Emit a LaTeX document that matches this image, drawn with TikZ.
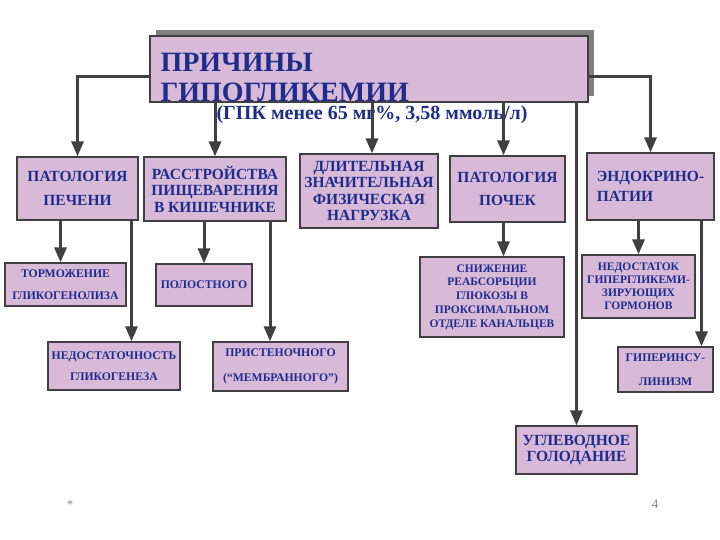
\documentclass[tikz,border=0pt]{standalone}
\usepackage{fontspec}
\setmainfont{Liberation Serif}
\usetikzlibrary{arrows.meta,positioning,shadows}
\definecolor{boxfill}{RGB}{216,186,216}
\definecolor{boxline}{RGB}{64,64,64}
\definecolor{linegray}{RGB}{64,64,64}
\definecolor{txtblue}{RGB}{30,45,140}
\definecolor{shadowgray}{RGB}{128,128,128}
\definecolor{pagegray}{RGB}{130,130,130}

\begin{document}
\begin{tikzpicture}[x=1pt, y=-1pt,
  box/.style={draw=boxline, fill=boxfill, line width=1.2pt, inner sep=1pt, align=center, text=txtblue},
  big/.style={font=\fontsize{15.5}{16.5}\selectfont\bfseries},
  small/.style={font=\fontsize{11.7}{13.5}\selectfont\bfseries},
  arr/.style={draw=linegray, line width=3pt, -{Triangle[length=15pt,width=12pt]}}]
\useasboundingbox[fill=white] (0,0) rectangle (720,540);
% title
\node[box, minimum width=438pt, minimum height=66pt,
  drop shadow={shadow xshift=6pt, shadow yshift=6pt, fill=shadowgray, opacity=1}] (cause) at (369,69) {};
\node[anchor=west, align=left, text=txtblue, font=\fontsize{28}{30}\selectfont\bfseries] (causetext) at (157,77) {ПРИЧИНЫ\\ГИПОГЛИКЕМИИ};
\node[anchor=base, text=txtblue, font=\fontsize{20}{22}\selectfont\bfseries] (limit) at (372,120) {(ГПК менее 65 мг\%, 3,58 ммоль/л)};
% first row
\node[box, big, minimum width=121pt, minimum height=63pt] (liver) at (77.5,188.5) {ПАТОЛОГИЯ\\[7pt]ПЕЧЕНИ};
\node[box, big, minimum width=142pt, minimum height=64pt] (gut) at (215,189) {РАССТРОЙСТВА\\ПИЩЕВАРЕНИЯ\\В КИШЕЧНИКЕ};
\node[box, big, minimum width=138pt, minimum height=74pt] (load) at (369,191) {ДЛИТЕЛЬНАЯ\\ЗНАЧИТЕЛЬНАЯ\\ФИЗИЧЕСКАЯ\\НАГРУЗКА};
\node[box, big, minimum width=115pt, minimum height=66pt] (kidney) at (507.5,189) {ПАТОЛОГИЯ\\[7pt]ПОЧЕК};
\node[box, big, align=left, minimum width=127pt, minimum height=67pt] (endo) at (650.5,186.5) {ЭНДОКРИНО-\\[3pt]ПАТИИ};
% second row
\node[box, small, minimum width=121pt, minimum height=43pt] (braking) at (65.5,284.5) {ТОРМОЖЕНИЕ\\[9pt]ГЛИКОГЕНОЛИЗА};
\node[box, small, minimum width=96pt, minimum height=42pt] (cavity) at (204,285) {ПОЛОСТНОГО};
\node[box, small, minimum width=132pt, minimum height=48pt] (synth) at (114,366) {НЕДОСТАТОЧНОСТЬ\\[7pt]ГЛИКОГЕНЕЗА};
\node[box, small, minimum width=135pt, minimum height=49pt] (wall) at (280.5,366.5) {ПРИСТЕНОЧНОГО\\[11pt](“МЕМБРАННОГО”)};
\node[box, small, minimum width=144pt, minimum height=80pt, font=\fontsize{11.5}{13.75}\selectfont\bfseries] (reabs) at (492,297) {СНИЖЕНИЕ\\РЕАБСОРБЦИИ\\ГЛЮКОЗЫ В\\ПРОКСИМАЛЬНОМ\\ОТДЕЛЕ КАНАЛЬЦЕВ};
\node[box, small, minimum width=113pt, minimum height=63pt, font=\fontsize{11.5}{13}\selectfont\bfseries] (hormone) at (638.5,286.5) {НЕДОСТАТОК\\ГИПЕРГЛИКЕМИ-\\ЗИРУЮЩИХ\\ГОРМОНОВ};
\node[box, small, minimum width=95pt, minimum height=45pt] (hyper) at (665.5,369.5) {ГИПЕРИНСУ-\\[11pt]ЛИНИЗМ};
\node[box, big, minimum width=121pt, minimum height=48pt] (starve) at (576.5,450) {УГЛЕВОДНОЕ\\ГОЛОДАНИЕ};
% footer
\node[text=pagegray, font=\fontsize{12}{14}\selectfont] (star) at (70,505) {*};
\node[text=pagegray, font=\fontsize{13}{14}\selectfont] (page) at (655,504) {4};
% arrows
\draw[arr] ([yshift=-8pt]cause.west) -| (liver);
\draw[arr] ([yshift=-8pt]cause.east) -| (endo);
\draw[arr] (cause.south -| gut) -- (gut);
\draw[arr] ([xshift=3pt]load.north |- cause.south) -- ([xshift=3pt]load.north);
\draw[arr] ([xshift=-4pt]kidney.north |- cause.south) -- ([xshift=-4pt]kidney.north);
\draw[arr] (cause.south -| starve) -- (starve);
\draw[arr] ([xshift=-17pt]liver.south) -- ([xshift=-17pt]liver.south |- braking.north);
\draw[arr] ([xshift=54pt]liver.south) -- ([xshift=54pt]liver.south |- synth.north);
\draw[arr] (gut.south -| cavity) -- (cavity);
\draw[arr] ([xshift=55pt]gut.south) -- ([xshift=55pt]gut.south |- wall.north);
\draw[arr] ([xshift=-4pt]kidney.south) -- ([xshift=-4pt]kidney.south |- reabs.north);
\draw[arr] (endo.south -| hormone) -- (hormone);
\draw[arr] ([xshift=51pt]endo.south) -- ([xshift=51pt]endo.south |- hyper.north);
\end{tikzpicture}
\end{document}
